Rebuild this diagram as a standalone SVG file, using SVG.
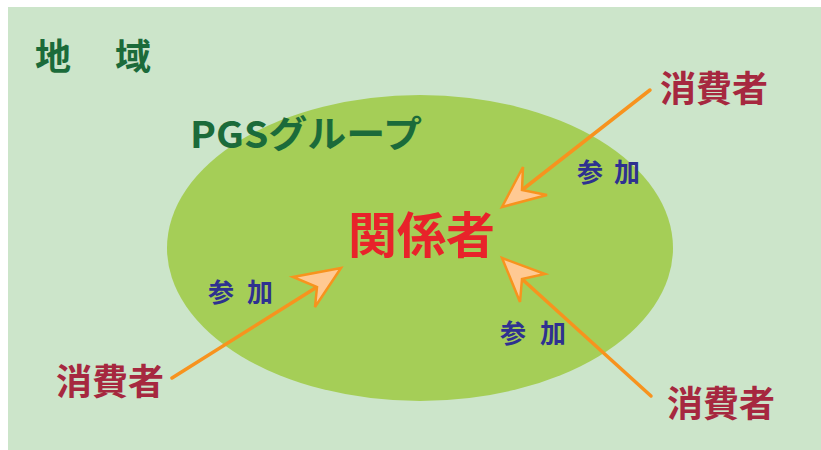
<svg xmlns="http://www.w3.org/2000/svg" width="821" height="450" viewBox="0 0 821 450">
<style>
text{font-family:"Noto Sans CJK JP","Noto Sans CJK SC",sans-serif;font-weight:bold}
.region{fill:#1B6B3A;font-size:36px}
.group{fill:#1B6B3A;font-size:37px}
.center{fill:#E8232A;font-size:49px}
.consumer{fill:#A6283F;font-size:36px}
.join{fill:#2E3190;font-size:26px}
.line{stroke:#F7931E;stroke-width:3.5;fill:none;stroke-linecap:round}
.head{fill:#FFC993;stroke:#F7931E;stroke-width:2.5;stroke-linejoin:miter}
</style>
<rect x="8" y="7" width="813" height="443" fill="#CCE5CA"/>
<g id="pgs-group">
<ellipse cx="420" cy="248" rx="253" ry="153" fill="#A5CE57"/>
<text class="group" x="190" y="148" textLength="232" lengthAdjust="spacingAndGlyphs">PGSグループ</text>
</g>
<g id="region"><text class="region" x="35" y="70" letter-spacing="4">地　域</text></g>
<g id="stakeholder"><text class="center" x="348" y="253" textLength="147" lengthAdjust="spacingAndGlyphs">関係者</text></g>
<g id="consumer-tr"><text class="consumer" x="660" y="102" textLength="108" lengthAdjust="spacingAndGlyphs">消費者</text></g>
<g id="consumer-bl"><text class="consumer" x="56" y="395" textLength="108" lengthAdjust="spacingAndGlyphs">消費者</text></g>
<g id="consumer-br"><text class="consumer" x="667" y="417" textLength="108" lengthAdjust="spacingAndGlyphs">消費者</text></g>
<g id="connectors">
<line class="line" x1="650" y1="90" x2="522" y2="190"/>
<polygon class="head" points="502,207 523,167 522,190 547,195"/>
<line class="line" x1="172" y1="378" x2="317" y2="287"/>
<polygon class="head" points="341,268 293,277 317,287 315,307"/>
<line class="line" x1="651" y1="396" x2="522" y2="279"/>
<polygon class="head" points="502,258 545,274 522,279 520,302"/>
<text class="join" x="577" y="182">参<tspan x="614">加</tspan></text>
<text class="join" x="208" y="302">参<tspan x="247">加</tspan></text>
<text class="join" x="500" y="343">参<tspan x="540">加</tspan></text>
</g>
</svg>
